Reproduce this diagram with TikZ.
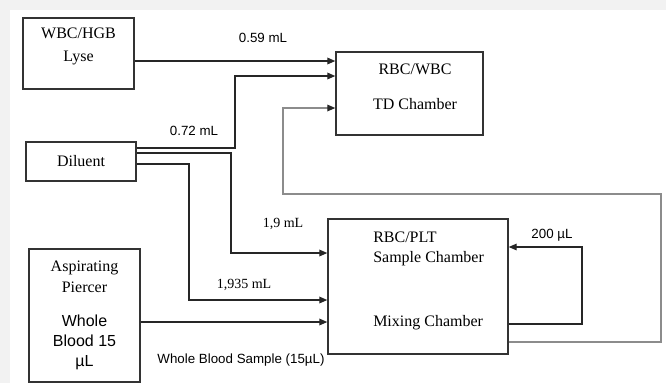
\documentclass[tikz,border=0pt]{standalone}
\usepackage{fontspec}
\setmainfont{Liberation Serif}
\setsansfont{Liberation Sans}
\usepackage{tikz}
\usetikzlibrary{arrows.meta, positioning, calc}

\begin{document}
\begin{tikzpicture}[
    x=0.75pt, y=-0.75pt,
    box/.style={draw=black!80, line width=1.1pt, inner sep=0pt},
    txt/.style={align=center, font=\fontsize{12}{17}\selectfont, inner sep=0pt},
    wb/.style={align=center, font=\sffamily\fontsize{12}{15}\selectfont, inner sep=0pt},
    vol/.style={font=\fontsize{10.5}{12}\selectfont, inner sep=0pt},
    svol/.style={font=\sffamily\fontsize{10}{12}\selectfont, inner sep=0pt},
    arr/.style={-{Triangle[length=6pt, width=5pt]}, line width=1pt, draw=black!85},
    loop/.style={-{Triangle[length=6pt, width=5pt, color=black!85]}, line width=0.9pt, draw=black!45},
]

% Page
\useasboundingbox (0,0) rectangle (666,383);
\fill[black!5] (0,0) rectangle (666,383);
\fill[white] (10,10) rectangle (666,383);

% Boxes
\node[box, minimum width=111*0.75pt, minimum height=71*0.75pt] (lyse) at (78.5,53.5) {};
\node[box, minimum width=110*0.75pt, minimum height=39*0.75pt] (dil) at (81,161.5) {};
\node[box, minimum width=147*0.75pt, minimum height=83*0.75pt] (td) at (409.5,93.5) {};
\node[box, minimum width=180*0.75pt, minimum height=135*0.75pt] (rbc) at (418,286.5) {};
\node[box, minimum width=111*0.75pt, minimum height=133*0.75pt] (asp) at (84.5,315.5) {};

% Box texts
\node[txt] (lyset) at (78.5,46.5) {WBC/HGB\\Lyse};
\node[txt] (dilt) at (81,161.5) {Diluent};
\node[txt] (tdt1) at (415,69) {RBC/WBC};
\node[txt] (tdt2) at (415,104) {TD Chamber};
\node[txt, align=left, anchor=west, font=\fontsize{12}{15}\selectfont] (rbct) at (373,249) {RBC/PLT\\Sample Chamber};
\node[txt, anchor=west] (mixt) at (373,323) {Mixing Chamber};
\node[txt, font=\fontsize{12}{15.75}\selectfont] (aspt) at (84.5,276.5) {Aspirating\\Piercer};
\node[wb] (wbt) at (84.5,342) {Whole\\Blood 15\\µL};

% Flows
\draw[arr] (lyse.east |- 0,61) -- (td.west |- 0,61);
\draw[arr] (dil.east |- 0,148) -| (235,76) -- (td.west |- 0,76);
\draw[arr] (dil.east |- 0,153) -| (231,253) -- (rbc.west |- 0,253);
\draw[arr] (dil.east |- 0,164) -| (189,300) -- (rbc.west |- 0,300);
\draw[arr] (asp.east |- 0,322) -- (rbc.west |- 0,322);
\draw[arr, line width=0.8pt] (rbc.east |- 0,324) -| (582,247) -- (rbc.east |- 0,247);
\draw[loop] (rbc.east |- 0,342) -| (661,194) -| (283,108) -- (td.west |- 0,108);

% Volumes
\node[svol] (v059) at (263,38) {0.59 mL};
\node[svol] (v072) at (194,131) {0.72 mL};
\node[vol] (v19) at (283,224) {1,9 mL};
\node[vol] (v1935) at (244,285) {1,935 mL};
\node[svol] (v200) at (552,235) {200 µL};
\node[svol] (vwb) at (241,360) {Whole Blood Sample (15µL)};

\end{tikzpicture}
\end{document}
